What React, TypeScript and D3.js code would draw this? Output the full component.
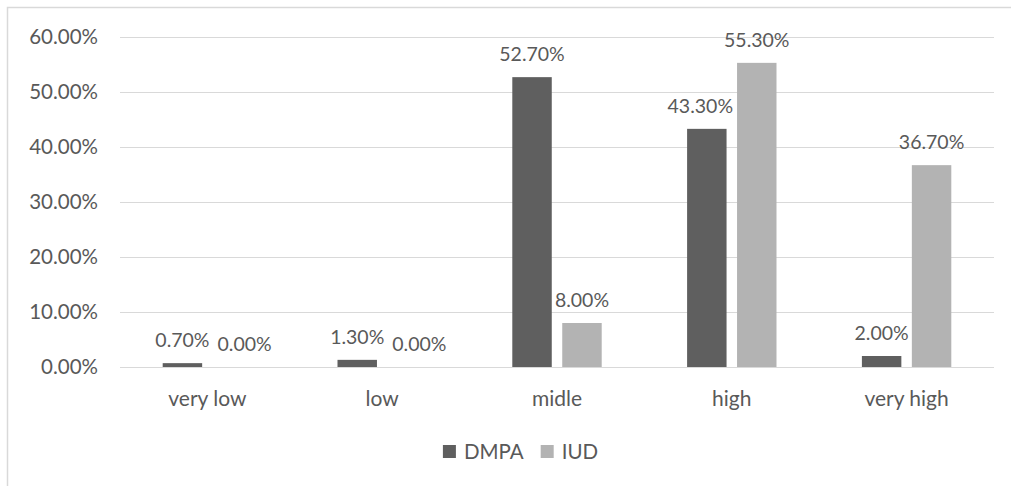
import React from "react";
import * as d3 from "d3";

const categories = ["very low", "low", "midle", "high", "very high"];
const seriesNames = ["DMPA", "IUD"];
const dmpaValues = [0.007, 0.013, 0.527, 0.433, 0.02];
const iudValues = [0.0, 0.0, 0.08, 0.553, 0.367];
const yTicks = [0, 0.1, 0.2, 0.3, 0.4, 0.5, 0.6];

const W = 1011;
const H = 486;
const FONT = "Lato, 'Noto Sans', sans-serif";
const TEXT = "#595959";
const GRID = "#d9d9d9";
const COLORS = ["#5f5f5f", "#b3b3b3"];
const FS_TICK = 20.5;
const FS_LABEL = 19.5;
const FS_CAT = 21;
const FS_LEG = 20.5;

let ctx: CanvasRenderingContext2D | null = null;
function textWidth(s: string, size: number) {
  if (!ctx) ctx = document.createElement("canvas").getContext("2d");
  if (!ctx) return s.length * size * 0.55;
  ctx.font = `${size}px Lato`;
  return ctx.measureText(s).width;
}

const fmt = (v: number) => (v * 100).toFixed(2) + "%";

export default function App() {
  const x = d3.scaleBand<string>().domain(categories).range([120, 994]);
  const xi = d3
    .scaleBand<string>()
    .domain(seriesNames)
    .range([0, x.bandwidth()])
    .paddingInner(0.21)
    .paddingOuter(0.855);
  const y = d3.scaleLinear().domain([0, 0.6]).range([367, 37]);
  const series = [dmpaValues, iudValues];

  // data labels with simple collision avoidance
  const labels: { text: string; cx: number; cy: number; key: string }[] = [];
  categories.forEach((c, i) => {
    const bars = seriesNames.map((s, k) => {
      const left = (x(c) as number) + (xi(s) as number);
      const v = series[k][i];
      return { left, right: left + xi.bandwidth(), top: y(v), v };
    });
    const ls = bars.map((b) => {
      const t = fmt(b.v);
      const w = textWidth(t, FS_LABEL);
      return { t, w, cx: (b.left + b.right) / 2, cy: b.top - 22.5 };
    });
    // label 0 overlapping the neighbouring taller bar -> shift left
    if (ls[0].cx + ls[0].w / 2 > bars[1].left - 3 && ls[0].cy + 8 > bars[1].top) {
      ls[0].cx = bars[1].left - 4 - ls[0].w / 2;
    }
    // label 1 overlapping label 0 -> shift right
    if (
      Math.abs(ls[0].cy - ls[1].cy) < FS_LABEL &&
      ls[1].cx - ls[1].w / 2 < ls[0].cx + ls[0].w / 2 + 6
    ) {
      ls[1].cx = ls[0].cx + ls[0].w / 2 + 8 + ls[1].w / 2;
    }
    ls.forEach((l, k) => labels.push({ text: l.t, cx: l.cx, cy: l.cy, key: `${c}-${k}` }));
  });

  // legend centered on chart area
  const legCenter = 520.5;
  const sq = 13;
  const items = seriesNames.map((s) => ({ s, w: sq + 8 + textWidth(s, FS_LEG) }));
  const legGap = 17;
  const total = items.reduce((a, b) => a + b.w, 0) + legGap * (items.length - 1);
  let lx = legCenter - total / 2;
  const legItems = items.map((it, k) => {
    const o = { ...it, x: lx, k };
    lx += it.w + legGap;
    return o;
  });
  const legY = 451.5;

  return (
    <svg
      width={W}
      height={H}
      style={{ position: "absolute", left: 0, top: 0, background: "#fff" }}
      fontFamily={FONT}
    >
      <rect x={0} y={0} width={W} height={H} fill="#fff" />
      <rect x={7.5} y={7.5} width={W + 40} height={H + 40} fill="none" stroke={GRID} strokeWidth={1.5} />
      {yTicks.map((t) => (
        <g key={t}>
          <line x1={120} x2={994} y1={y(t) + 0.5} y2={y(t) + 0.5} stroke={GRID} strokeWidth={1} />
          <text x={98} y={y(t)} dy="0.35em" textAnchor="end" fontSize={FS_TICK} fill={TEXT}>
            {fmt(t)}
          </text>
        </g>
      ))}
      {categories.map((c, i) => (
        <g key={c}>
          {seriesNames.map((s, k) => {
            const v = series[k][i];
            return (
              <rect
                key={s}
                x={(x(c) as number) + (xi(s) as number)}
                y={y(v)}
                width={xi.bandwidth()}
                height={y(0) - y(v)}
                fill={COLORS[k]}
              />
            );
          })}
          <text
            x={(x(c) as number) + x.bandwidth() / 2}
            y={399}
            dy="0.35em"
            textAnchor="middle"
            fontSize={FS_CAT}
            fill={TEXT}
          >
            {c}
          </text>
        </g>
      ))}
      {labels.map((l) => (
        <text key={l.key} x={l.cx} y={l.cy} dy="0.35em" textAnchor="middle" fontSize={FS_LABEL} fill={TEXT}>
          {l.text}
        </text>
      ))}
      {legItems.map((it) => (
        <g key={it.s}>
          <rect x={it.x} y={legY - sq / 2} width={sq} height={sq} fill={COLORS[it.k]} />
          <text x={it.x + sq + 8} y={legY} dy="0.35em" fontSize={FS_LEG} fill={TEXT}>
            {it.s}
          </text>
        </g>
      ))}
    </svg>
  );
}
